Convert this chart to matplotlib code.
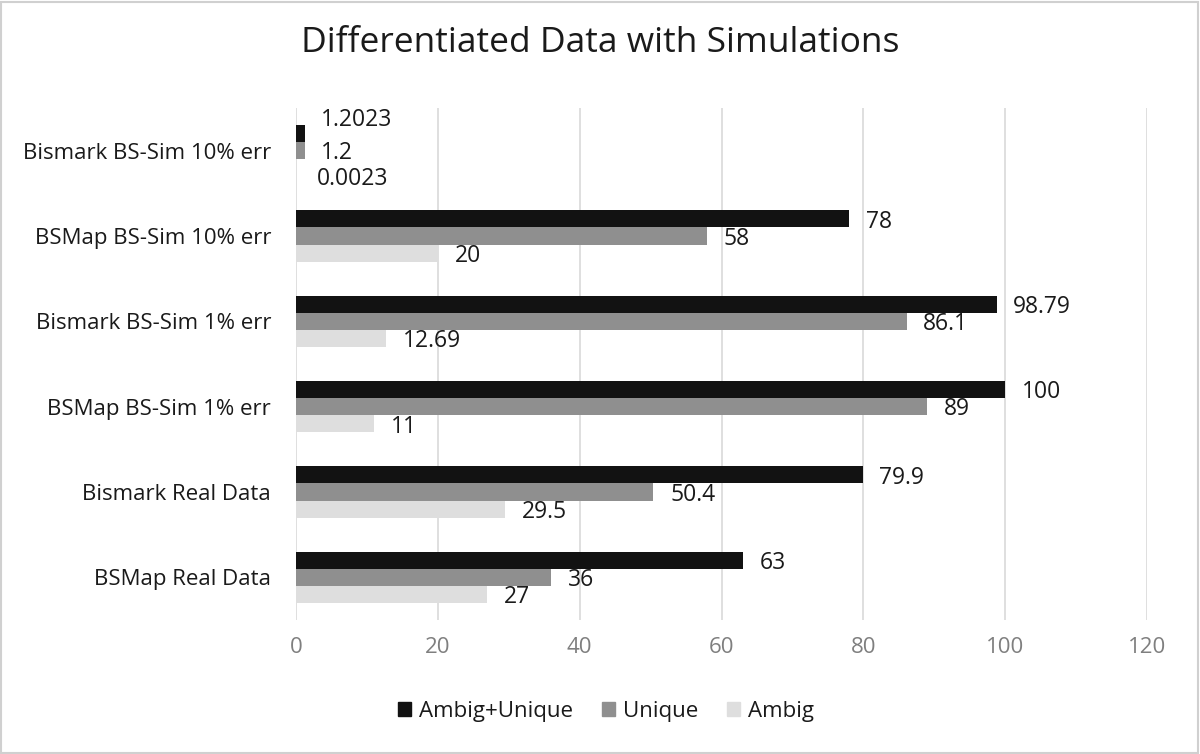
import numpy as np
import matplotlib.pyplot as plt
from matplotlib.patches import Rectangle, Patch

plt.rcParams["font.family"] = ["Open Sans", "DejaVu Sans"]

categories = ["BSMap Real Data", "Bismark Real Data", "BSMap BS-Sim 1% err",
              "Bismark BS-Sim 1% err", "BSMap BS-Sim 10% err", "Bismark BS-Sim 10% err"]
ambig_unique = [63, 79.9, 100, 98.79, 78, 1.2023]
unique = [36, 50.4, 89, 86.1, 58, 1.2]
ambig = [27, 29.5, 11, 12.69, 20, 0.0023]
label_ambig_unique = ["63", "79.9", "100", "98.79", "78", "1.2023"]
label_unique = ["36", "50.4", "89", "86.1", "58", "1.2"]
label_ambig = ["27", "29.5", "11", "12.69", "20", "0.0023"]

fig = plt.figure(figsize=(12, 7.54), dpi=100)
ax = fig.add_axes([0.2467, 0.1777, 0.7091, 0.6791])

y = np.arange(len(categories))
h = 0.2
series = [
    (ambig_unique, label_ambig_unique, "#121212", "Ambig+Unique", h),
    (unique, label_unique, "#8f8f8f", "Unique", 0),
    (ambig, label_ambig, "#dedede", "Ambig", -h),
]

for vals, labels, color, name, off in series:
    ax.barh(y + off, vals, height=h, color=color, zorder=3)
    for i, (v, t) in enumerate(zip(vals, labels)):
        dx, dy = 12, -2
        # the tiny top group has its labels pushed apart
        if i == 5 and off > 0:
            dy = 10
        if i == 5 and off < 0:
            dx, dy = 15, -8
        ax.annotate(t, (v, y[i] + off), xytext=(dx, dy), textcoords="offset points",
                    ha="left", va="center", fontsize=16.5, color="#1a1a1a", zorder=4)

ax.set_xlim(0, 120)
ax.set_ylim(-0.5, len(categories) - 0.5)
ax.set_xticks(range(0, 121, 20))
ax.set_yticks(y)
ax.set_yticklabels(categories, fontsize=16, color="#1a1a1a")
ax.tick_params(axis="x", labelsize=16, colors="#7f7f7f", length=0, pad=12)
ax.tick_params(axis="y", length=0, pad=18)
ax.grid(axis="x", color="#d9d9d9", linewidth=1.2, zorder=0)
for s in ax.spines.values():
    s.set_visible(False)

fig.suptitle("Differentiated Data with Simulations", fontsize=25.5, y=0.965, color="#1a1a1a")

handles = [Patch(color=c, label=n) for _, _, c, n, _ in series]
fig.legend(handles=handles, loc="center", bbox_to_anchor=(0.505, 0.057), ncol=3,
           frameon=False, fontsize=16, handlelength=0.6, handleheight=0.6,
           columnspacing=1.3, handletextpad=0.35, labelcolor="#1a1a1a")

fig.patches.append(Rectangle((0.001, 0.001), 0.997, 0.997, transform=fig.transFigure,
                             fill=False, edgecolor="#d0d0d0", linewidth=1.5))

fig.savefig("out.png", dpi=100)
